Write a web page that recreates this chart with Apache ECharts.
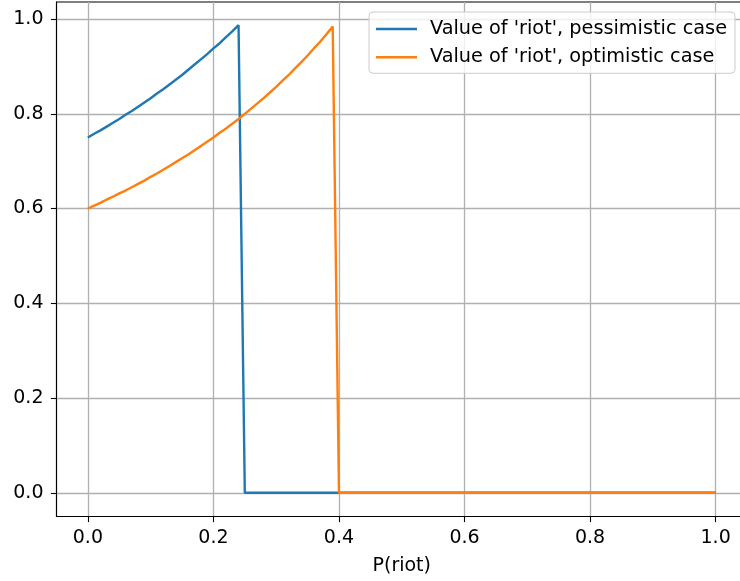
<!DOCTYPE html>
<html>
<head>
<meta charset="utf-8">
<style>
  html, body { margin: 0; padding: 0; background: #fff; }
  #chart { width: 740px; height: 581px; }
</style>
<script src="https://cdn.jsdelivr.net/npm/echarts@6/dist/echarts.min.js"></script>
</head>
<body>
<div id="chart"></div>
<script>
// Probability of a riot (x axis samples)
const pRiot = [
  0.00, 0.01, 0.02, 0.03, 0.04, 0.05, 0.06, 0.07, 0.08, 0.09,
  0.10, 0.11, 0.12, 0.13, 0.14, 0.15, 0.16, 0.17, 0.18, 0.19,
  0.20, 0.21, 0.22, 0.23, 0.24, 0.25, 0.26, 0.27, 0.28, 0.29,
  0.30, 0.31, 0.32, 0.33, 0.34, 0.35, 0.36, 0.37, 0.38, 0.39,
  0.40, 1.00
];

// Value of 'riot' under the pessimistic assumption
const pessimistic = [
  0.750, 0.758, 0.765, 0.773, 0.781, 0.789, 0.798, 0.806, 0.815, 0.824,
  0.833, 0.843, 0.852, 0.862, 0.872, 0.882, 0.893, 0.904, 0.915, 0.926,
  0.938, 0.949, 0.962, 0.974, 0.987, 0.000, 0.000, 0.000, 0.000, 0.000,
  0.000, 0.000, 0.000, 0.000, 0.000, 0.000, 0.000, 0.000, 0.000, 0.000,
  0.000, 0.000
];

// Value of 'riot' under the optimistic assumption
const optimistic = [
  0.600, 0.606, 0.612, 0.619, 0.625, 0.632, 0.638, 0.645, 0.652, 0.659,
  0.667, 0.674, 0.682, 0.690, 0.698, 0.706, 0.714, 0.723, 0.732, 0.741,
  0.750, 0.760, 0.769, 0.779, 0.789, 0.800, 0.811, 0.822, 0.833, 0.845,
  0.857, 0.870, 0.882, 0.896, 0.909, 0.923, 0.938, 0.952, 0.968, 0.984,
  0.000, 0.000
];

const xTicks = [0.0, 0.2, 0.4, 0.6, 0.8, 1.0];
const yTicks = [0.0, 0.2, 0.4, 0.6, 0.8, 1.0];

const seriesNames = [
  "Value of 'riot', pessimistic case",
  "Value of 'riot', optimistic case"
];

const font = 'DejaVu Sans';
const fontSize = 19;
const toPairs = ys => pRiot.map((x, i) => [x, ys[i]]);

const chart = echarts.init(document.getElementById('chart'), null, { renderer: 'canvas' });

chart.setOption({
  animation: false,
  backgroundColor: '#ffffff',
  grid: {
    left: 56.5, top: 2, width: 690.5, height: 514.5,
    outerBoundsMode: 'none',
    containLabel: false,
    show: true, borderColor: '#000', borderWidth: 1.1, backgroundColor: 'transparent'
  },
  legend: {
    left: 369, top: 12,
    orient: 'vertical',
    padding: [6, 8, 5, 7],
    itemGap: 6.3,
    itemWidth: 41,
    itemHeight: 2.5,
    icon: 'rect',
    backgroundColor: 'rgba(255,255,255,0.8)',
    borderColor: '#cccccc',
    borderWidth: 1,
    borderRadius: 4,
    textStyle: {
      fontFamily: font, fontSize: 19.3, color: '#000', lineHeight: 22,
      padding: [0, 0, 0, 8]
    },
    data: seriesNames
  },
  xAxis: {
    type: 'value',
    min: -0.05, max: 1.05,
    name: 'P(riot)',
    nameLocation: 'middle',
    nameGap: 40,
    nameTextStyle: { fontFamily: font, fontSize: fontSize, color: '#000' },
    axisLine: { onZero: false, lineStyle: { color: '#000', width: 1.1 } },
    axisTick: { show: true, length: 5.6, inside: false, customValues: xTicks, lineStyle: { color: '#000', width: 1.1 } },
    axisLabel: {
      customValues: xTicks,
      margin: 12,
      fontFamily: font, fontSize: fontSize, color: '#000',
      formatter: v => v.toFixed(1)
    },
    splitLine: { show: true, lineStyle: { color: '#b0b0b0', width: 1.3 } }
  },
  yAxis: {
    type: 'value',
    min: -0.05, max: 1.036,
    axisLine: { show: true, onZero: false, lineStyle: { color: '#000', width: 1.1 } },
    axisTick: { show: true, length: 5.6, inside: false, customValues: yTicks, lineStyle: { color: '#000', width: 1.1 } },
    axisLabel: {
      customValues: yTicks,
      margin: 13,
      fontFamily: font, fontSize: fontSize, color: '#000',
      formatter: v => v.toFixed(1)
    },
    splitLine: { show: true, lineStyle: { color: '#b0b0b0', width: 1.3 } }
  },
  series: [
    {
      name: seriesNames[0],
      type: 'line',
      data: toPairs(pessimistic),
      showSymbol: false,
      color: '#1f77b4',
      lineStyle: { width: 2.4, color: '#1f77b4' },
      clip: true
    },
    {
      name: seriesNames[1],
      type: 'line',
      data: toPairs(optimistic),
      showSymbol: false,
      color: '#ff7f0e',
      lineStyle: { width: 2.4, color: '#ff7f0e' },
      clip: true
    }
  ]
});
</script>
</body>
</html>
